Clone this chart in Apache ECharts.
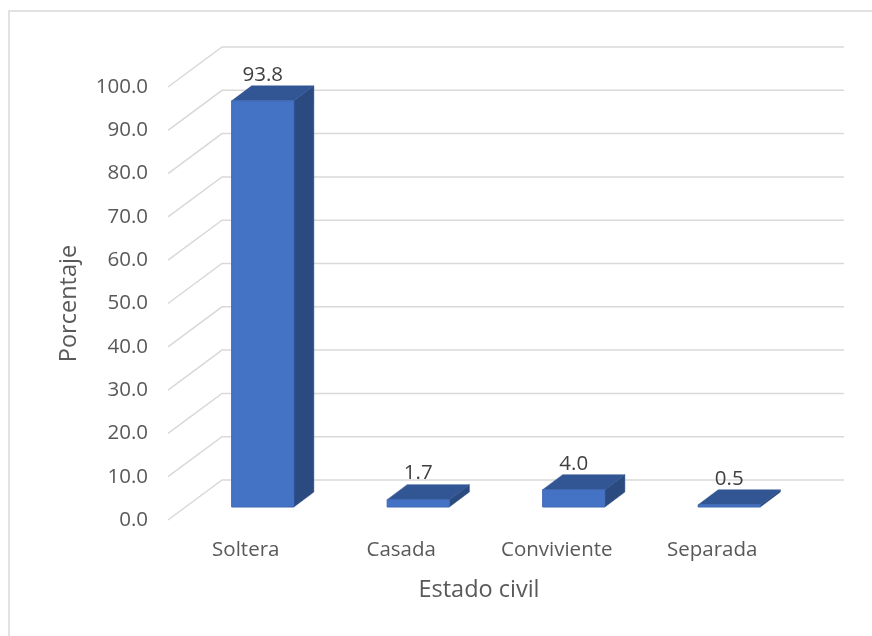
<!DOCTYPE html>
<html>
<head>
<meta charset="utf-8">
<script src="https://cdn.jsdelivr.net/npm/echarts@6/dist/echarts.min.js"></script>
<style>
html,body{margin:0;padding:0;background:#fff;}
#chart{width:872px;height:636px;}
</style>
</head>
<body>
<div id="chart"></div>
<script>
// ---- data ----
var categories = ['Soltera', 'Casada', 'Conviviente', 'Separada'];
var values = [93.8, 1.7, 4.0, 0.5];
var tickValues = [0, 10, 20, 30, 40, 50, 60, 70, 80, 90, 100];
var xTitle = 'Estado civil';
var yTitle = 'Porcentaje';

var FONT = '"Open Sans", "Noto Sans", sans-serif';
// perspective offsets (pixels)
var WALL_DX = 54, WALL_DY = -40;   // front plane -> back wall
var BAR_DX = 17, BAR_DY = -13;     // front plane -> bar front face
var DEPTH_DX = 20, DEPTH_DY = -15; // bar depth

var chart = echarts.init(document.getElementById('chart'), null, {renderer: 'canvas'});

function renderGrid(params, api) {
  var cs = params.coordSys;
  var v = api.value(0);
  var y = api.coord([0, v])[1];
  var x0 = cs.x, x1 = cs.x + cs.width;
  return {
    type: 'polyline',
    shape: {points: [[x0, y], [x0 + WALL_DX, y + WALL_DY], [x1 + WALL_DX, y + WALL_DY]]},
    style: {stroke: '#d9d9d9', lineWidth: 1.5, fill: null}
  };
}

function renderBar(params, api) {
  var i = api.value(0), v = api.value(1);
  var base = api.coord([i, 0]);
  var top = api.coord([i, v]);
  var bw = api.size([1, 0])[0];
  var w = bw * 0.4;
  var cx = base[0] + BAR_DX;
  var xl = cx - w / 2, xr = cx + w / 2;
  var yb = base[1] + BAR_DY, yt = top[1] + BAR_DY;
  var children = [];
  children.push({
    type: 'polygon',
    shape: {points: [[xr, yt], [xr + DEPTH_DX, yt + DEPTH_DY], [xr + DEPTH_DX, yb + DEPTH_DY], [xr, yb]]},
    style: {fill: '#2a4a80', stroke: '#2a4a80', lineWidth: 0.5}
  });
  children.push({
    type: 'polygon',
    shape: {points: [[xl, yt], [xl + DEPTH_DX, yt + DEPTH_DY], [xr + DEPTH_DX, yt + DEPTH_DY], [xr, yt]]},
    style: {fill: '#325694', stroke: '#325694', lineWidth: 0.5}
  });
  children.push({
    type: 'rect',
    shape: {x: xl, y: yt, width: w, height: yb - yt},
    style: {fill: '#4472c4', stroke: '#3f68b4', lineWidth: 1}
  });
  children.push({
    type: 'text',
    style: {
      x: cx, y: yt - 26,
      text: v.toFixed(1),
      fill: '#404040',
      font: '20.5px ' + FONT,
      textAlign: 'center',
      textVerticalAlign: 'middle'
    }
  });
  return {type: 'group', children: children};
}

var option = {
  backgroundColor: '#ffffff',
  animation: false,
  graphic: [{
    type: 'rect',
    shape: {x: 9, y: 11, width: 900, height: 700},
    style: {fill: null, stroke: '#d9d9d9', lineWidth: 1.5},
    silent: true
  }],
  grid: {left: 168, right: 82, top: 87, bottom: 116, containLabel: false},
  xAxis: {
    type: 'category',
    data: categories,
    axisLine: {show: false},
    axisTick: {show: false},
    axisLabel: {color: '#595959', fontSize: 20.5, fontFamily: FONT, margin: 20},
    name: xTitle,
    nameLocation: 'middle',
    nameGap: 58,
    nameTextStyle: {color: '#595959', fontSize: 23.5, fontFamily: FONT}
  },
  yAxis: {
    type: 'value',
    min: 0, max: 100, interval: 10,
    axisLine: {show: false},
    axisTick: {show: false},
    splitLine: {show: false},
    axisLabel: {
      color: '#595959', fontSize: 20.5, fontFamily: FONT, margin: 20,
      formatter: function (v) { return v.toFixed(1); }
    },
    name: yTitle,
    nameLocation: 'middle',
    nameGap: 87,
    nameTextStyle: {color: '#595959', fontSize: 23.5, fontFamily: FONT}
  },
  series: [
    {
      type: 'custom',
      renderItem: renderGrid,
      data: tickValues.map(function (t) { return [t]; }),
      encode: {y: 0},
      z: 1,
      silent: true
    },
    {
      type: 'custom',
      renderItem: renderBar,
      data: values.map(function (v, i) { return [i, v]; }),
      encode: {x: 0, y: 1},
      z: 5,
      silent: true
    }
  ]
};
chart.setOption(option);
</script>
</body>
</html>
